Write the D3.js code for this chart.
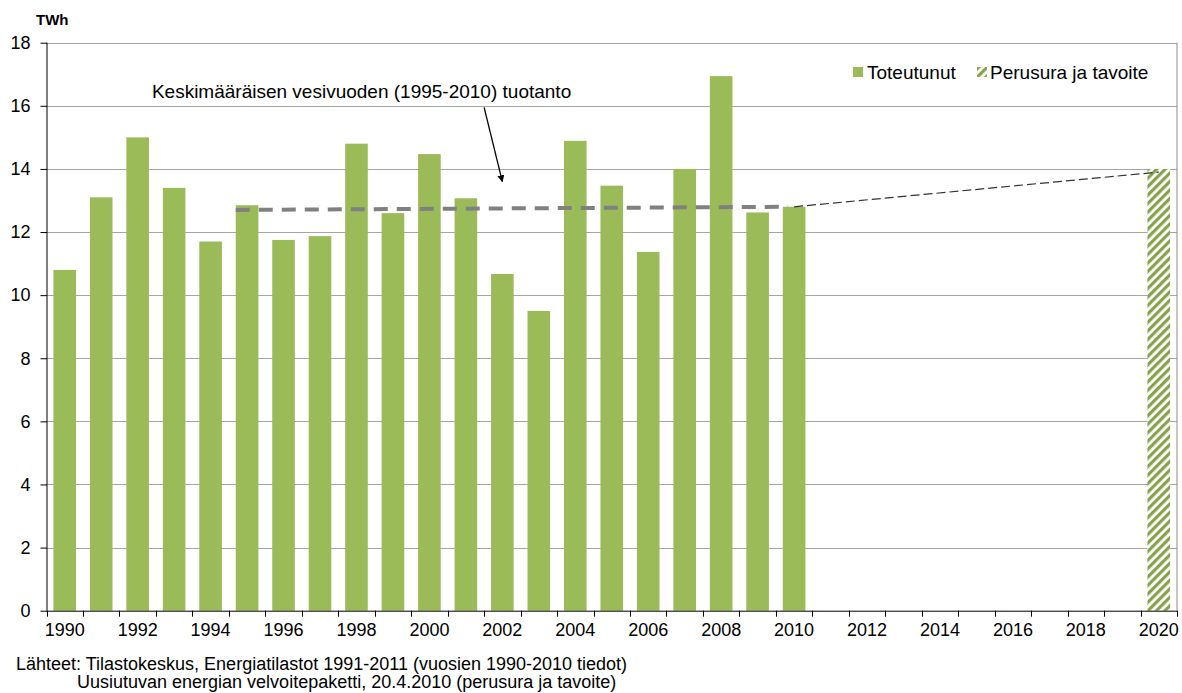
<!DOCTYPE html>
<html>
<head>
<meta charset="utf-8">
<style>
html, body { margin: 0; padding: 0; background: #fff; }
svg { display: block; font-family: "Liberation Sans", Arial, sans-serif; }
.grid line { stroke: #a6a6a6; stroke-width: 1; }
.axis path, .axis line { stroke: #000; }
.axis text { font-size: 18px; fill: #000; }
</style>
</head>
<body>
<script src="https://cdn.jsdelivr.net/npm/d3@7/dist/d3.min.js"></script>
<script>
var years = d3.range(1990, 2021)
var actualYears = d3.range(1990, 2011)
var actual = [10.8, 13.1, 15.0, 13.4, 11.7, 12.85, 11.75, 11.87, 14.8, 12.6, 14.47,
              13.07, 10.67, 9.5, 14.89, 13.47, 11.37, 14.0, 16.94, 12.62, 12.8]
var targetYears = [2020]
var target = [14.0]
var avgLine = [[1995, 12.7], [2010, 12.8]]
var projLine = [[2010, 12.8], [2020, 13.9]]
var yTicks = [0, 2, 4, 6, 8, 10, 12, 14, 16, 18]
var xLabels = d3.range(1990, 2021, 2)
var legendItems = ['Toteutunut', 'Perusura ja tavoite']
var annotation = 'Keskimääräisen vesivuoden (1995-2010) tuotanto'
var sources = ['Lähteet: Tilastokeskus, Energiatilastot 1991-2011 (vuosien 1990-2010 tiedot)',
               'Uusiutuvan energian velvoitepaketti, 20.4.2010 (perusura ja tavoite)']

var width = 1182, height = 693
var mLeft = 46.5, mRight = 1177, mTop = 42.7, mBottom = 610.7
var green = '#9bbb59'

var svg = d3.select('body').append('svg')
    .attr('width', width)
    .attr('height', height)

var defs = svg.append('defs')
var pat = defs.append('pattern')
    .attr('id', 'hatch')
    .attr('patternUnits', 'userSpaceOnUse')
    .attr('width', 6)
    .attr('height', 6)
    .attr('patternTransform', 'rotate(45)')
pat.append('rect').attr('width', 6).attr('height', 6).attr('fill', '#fff')
pat.append('rect').attr('width', 3.2).attr('height', 6).attr('fill', '#84a44a')

var x = d3.scaleBand()
    .domain(years)
    .range([mLeft, mRight])
    .paddingInner(0.38)
    .paddingOuter(0.19)

var y = d3.scaleLinear()
    .domain([0, 18])
    .range([mBottom, mTop])

var xc = function (yr) { return x(yr) + x.bandwidth() / 2 }

// gridlines
svg.append('g').attr('class', 'grid')
    .selectAll('line')
    .data(yTicks.slice(1))
    .join('line')
    .attr('x1', mLeft).attr('x2', mRight)
    .attr('y1', function (d) { return Math.round(y(d)) + 0.5 })
    .attr('y2', function (d) { return Math.round(y(d)) + 0.5 })

// right frame
svg.append('line')
    .attr('x1', mRight).attr('x2', mRight)
    .attr('y1', mTop).attr('y2', mBottom)
    .attr('stroke', '#8a8a8a')

// bars
svg.append('g')
    .selectAll('rect')
    .data(actual)
    .join('rect')
    .attr('x', function (d, i) { return x(actualYears[i]) })
    .attr('width', x.bandwidth())
    .attr('y', function (d) { return y(d) })
    .attr('height', function (d) { return y(0) - y(d) })
    .attr('fill', green)

svg.append('g')
    .selectAll('rect')
    .data(target)
    .join('rect')
    .attr('x', function (d, i) { return x(targetYears[i]) })
    .attr('width', x.bandwidth())
    .attr('y', function (d) { return y(d) })
    .attr('height', function (d) { return y(0) - y(d) })
    .attr('fill', 'url(#hatch)')

// average line
svg.append('line')
    .attr('x1', x(avgLine[0][0])).attr('y1', y(avgLine[0][1]))
    .attr('x2', xc(avgLine[1][0]) - 6).attr('y2', y(avgLine[1][1]))
    .attr('stroke', '#808080')
    .attr('stroke-width', 4)
    .attr('stroke-dasharray', '14,9')

// projection line
svg.append('line')
    .attr('x1', xc(projLine[0][0])).attr('y1', y(projLine[0][1]))
    .attr('x2', xc(projLine[1][0])).attr('y2', y(projLine[1][1]))
    .attr('stroke', '#333')
    .attr('stroke-width', 1.2)
    .attr('stroke-dasharray', '9,4')

// y axis
var yAxis = svg.append('g')
    .attr('class', 'axis')
    .attr('transform', 'translate(' + mLeft + ',0)')
    .call(d3.axisLeft(y).tickValues(yTicks).tickSize(6).tickPadding(10))
yAxis.select('.domain').attr('d', 'M0.5,' + mTop + 'V' + mBottom)
yAxis.selectAll('.tick line').attr('x1', 0.5)

// x axis
var xAxis = svg.append('g')
    .attr('class', 'axis')
    .attr('transform', 'translate(0,' + mBottom + ')')
    .call(d3.axisBottom(x).tickValues(xLabels).tickSize(0).tickPadding(13))
xAxis.select('.domain').attr('d', 'M' + mLeft + ',0.5H' + mRight)
xAxis.append('g')
    .selectAll('line')
    .data(years.concat([2021]))
    .join('line')
    .attr('x1', function (d, i) { return Math.round(mLeft + i * x.step()) + 0.5 })
    .attr('x2', function (d, i) { return Math.round(mLeft + i * x.step()) + 0.5 })
    .attr('y1', 0).attr('y2', 6)
    .attr('stroke', '#000')

// unit label
svg.append('text')
    .attr('x', 36).attr('y', 25)
    .attr('font-size', 15).attr('font-weight', 'bold')
    .text('TWh')

// annotation
svg.append('text')
    .attr('x', x(1993) - x.step() * 0.3)
    .attr('y', y(16.25))
    .attr('font-size', 19)
    .text(annotation)

defs.append('marker')
    .attr('id', 'arrow')
    .attr('viewBox', '0 0 10 10')
    .attr('refX', 9).attr('refY', 5)
    .attr('markerWidth', 7).attr('markerHeight', 7)
    .attr('markerUnits', 'userSpaceOnUse')
    .attr('orient', 'auto')
    .append('path')
    .attr('d', 'M0,0L10,5L0,10z')
    .attr('fill', '#000')

svg.append('line')
    .attr('x1', x(2002) - x.step() * 0.19).attr('y1', y(15.95))
    .attr('x2', xc(2002)).attr('y2', y(13.6))
    .attr('stroke', '#000')
    .attr('stroke-width', 1.3)
    .attr('marker-end', 'url(#arrow)')

// legend
var lg = svg.append('g').attr('font-size', 19)
lg.append('rect').attr('x', 853).attr('y', 67).attr('width', 10).attr('height', 10).attr('fill', green)
lg.append('text').attr('x', 867).attr('y', 79).text(legendItems[0])
lg.append('rect').attr('x', 977).attr('y', 67).attr('width', 10).attr('height', 10).attr('fill', 'url(#hatch)')
lg.append('text').attr('x', 990).attr('y', 79).text(legendItems[1])

// sources
svg.append('text').attr('x', 16).attr('y', 670).attr('font-size', 18).text(sources[0])
svg.append('text').attr('x', 77).attr('y', 688).attr('font-size', 18).text(sources[1])
</script>
</body>
</html>
